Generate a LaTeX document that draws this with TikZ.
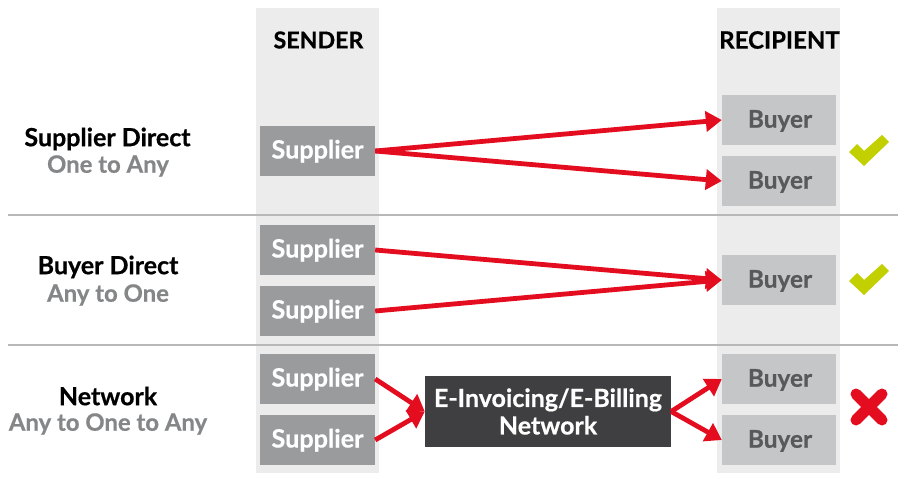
\documentclass[tikz,border=0pt]{standalone}
\usepackage{fontspec}
\setmainfont{Lato}[BoldFont={Lato Bold},BoldFeatures={FakeBold=0.6}]
\usetikzlibrary{arrows.meta}
\definecolor{colbg}{HTML}{ECECEC}
\definecolor{supgrey}{HTML}{9A9B9D}
\definecolor{buygrey}{HTML}{C5C6C8}
\definecolor{buytext}{HTML}{58595B}
\definecolor{netdark}{HTML}{3F3F41}
\definecolor{redline}{HTML}{E30D1F}
\definecolor{okgreen}{HTML}{C3D000}
\definecolor{subgrey}{HTML}{858688}
\definecolor{rulegrey}{HTML}{B8B8B8}
\tikzset{
  x=1pt,y=-1pt,
  column/.style={fill=colbg,draw=none},
  rulel/.style={draw=rulegrey,line width=1.1pt},
  supplier/.style={fill=supgrey,draw=none,minimum width=115pt,minimum height=50pt,inner sep=0pt,text height=15pt,text depth=0pt,text=white,font=\fontsize{25.2}{25}\selectfont\bfseries},
  buyer/.style={fill=buygrey,draw=none,minimum width=114pt,minimum height=50pt,inner sep=0pt,text height=15.4pt,text depth=0pt,text=buytext,font=\fontsize{24.4}{24}\selectfont\bfseries},
  network/.style={fill=netdark,draw=none,minimum width=246pt,minimum height=71pt,inner sep=0pt,align=center,text=white,font=\fontsize{25}{27.5}\selectfont\bfseries},
  head/.style={text=black,inner sep=0pt,font=\fontsize{23.2}{23}\selectfont\bfseries},
  headwide/.style={text=black,inner sep=0pt,font=\fontsize{24}{23}\selectfont\bfseries},
  titlet/.style={text=black,inner sep=0pt,font=\fontsize{25}{25}\selectfont\bfseries},
  subt/.style={text=subgrey,inner sep=0pt,font=\fontsize{23.9}{25}\selectfont\bfseries},
  conn/.style={draw=redline,line width=4.8pt,-{Triangle[length=16pt,width=20pt]}},
  tick/.style={fill=okgreen,draw=none},
  cross/.style={draw=redline,line width=11pt,line cap=round},
}
\begin{document}
\begin{tikzpicture}
\useasboundingbox (0,0) rectangle (919,500);
\fill[white] (0,0) rectangle (919,500);
\fill[column] (256,8) rectangle (379,473);
\fill[column] (717,8) rectangle (840,473);
\coordinate (r1a) at (8,215); \coordinate (r1b) at (898,215);
\coordinate (r2a) at (8,345); \coordinate (r2b) at (898,345);
\draw[rulel] (r1a) -- (r1b);
\draw[rulel] (r2a) -- (r2b);
\node[head] (hs) at (318.5,40) {SENDER};
\node[headwide] (hr) at (779.5,40) {RECIPIENT};
\node[titlet] (t1) at (107.5,139) {Supplier Direct};
\node[subt] (u1) at (108,166) {One to Any};
\node[titlet] (t2) at (108,267) {Buyer Direct};
\node[subt] (u2) at (108,295) {Any to One};
\node[titlet] (t3) at (108,396) {Network};
\node[subt] (u3) at (108,424) {Any to One to Any};
\node[supplier] (s1) at (317.5,151) {Supplier};
\node[supplier] (s2) at (317.5,250) {Supplier};
\node[supplier] (s3) at (317.5,311) {Supplier};
\node[supplier] (s4) at (317.5,379) {Supplier};
\node[supplier] (s5) at (317.5,440) {Supplier};
\node[buyer] (b1) at (779,120) {\hspace{2pt}Buyer};
\node[buyer] (b2) at (779,181) {\hspace{2pt}Buyer};
\node[buyer] (b3) at (779,280) {\hspace{2pt}Buyer};
\node[buyer] (b4) at (779,379) {\hspace{2pt}Buyer};
\node[buyer] (b5) at (779,440) {\hspace{2pt}Buyer};
\node[network] (n) at (548,411.5) {E-Invoicing/E-Billing\\Network};
\draw[conn] (s1.east) -- (b1.west);
\draw[conn] (s1.east) -- (b2.west);
\draw[conn] (s2.east) -- (b3.west);
\draw[conn] (s3.east) -- (b3.west);
\draw[conn] (s4.east) -- (n.west);
\draw[conn] (s5.east) -- (n.west);
\draw[conn] (n.east) -- (b4.west);
\draw[conn] (n.east) -- (b5.west);
\fill[tick] (849,152) -- (857,144) -- (864,151) -- (882,135) -- (889,142) -- (864,166) -- cycle;
\fill[tick] (849,281) -- (857,273) -- (864,280) -- (882,264) -- (889,271) -- (864,295) -- cycle;
\draw[cross] (856,394) -- (882,420);
\draw[cross] (882,394) -- (856,420);
\end{tikzpicture}
\end{document}
